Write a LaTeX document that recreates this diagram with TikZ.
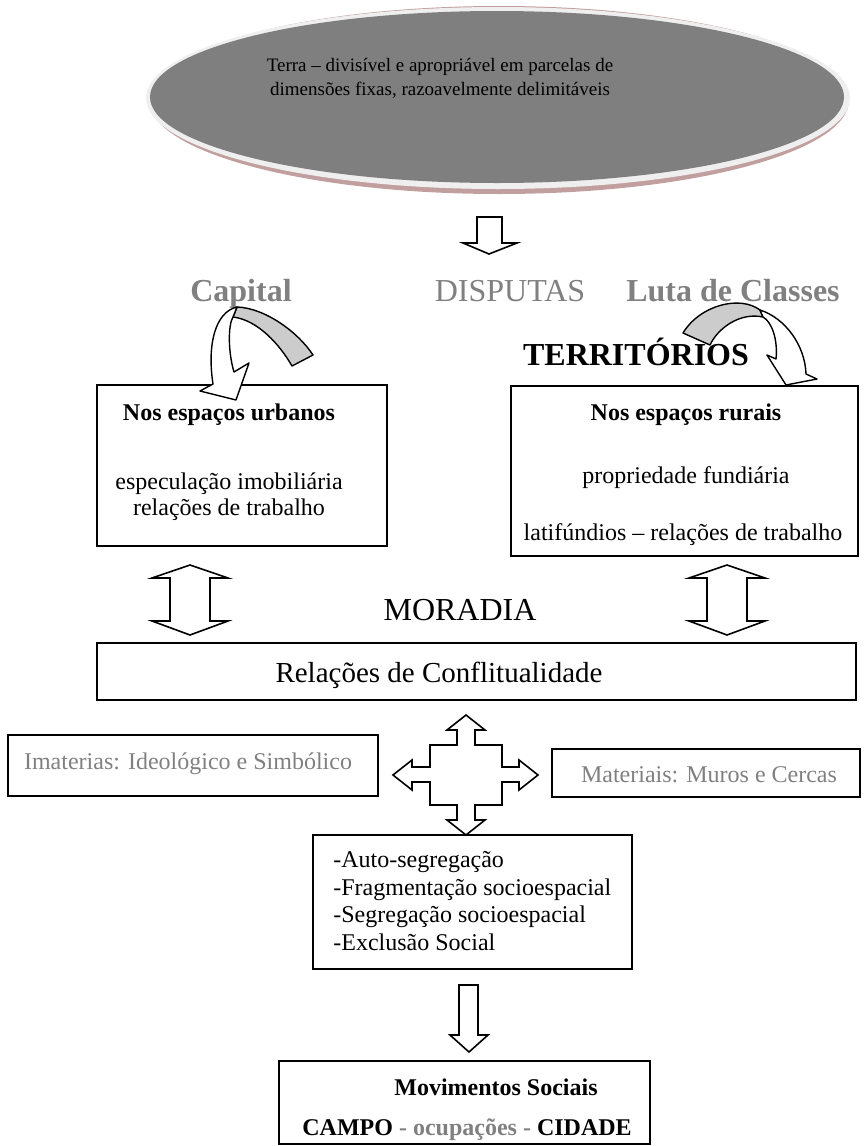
\documentclass[tikz,border=0pt]{standalone}
\usepackage{fontspec}
\setmainfont{Liberation Serif}
\usetikzlibrary{positioning}
\definecolor{ovalgrey}{HTML}{7F7F7F}
\definecolor{rimgrey}{HTML}{EFEFEF}
\definecolor{rimshadow}{HTML}{C29F9F}
\definecolor{labelgrey}{HTML}{808080}
\definecolor{bandgrey}{HTML}{CCCCCC}

\begin{document}
\begin{tikzpicture}[x=0.5pt,y=-0.5pt,
  box/.style={draw,line width=1pt,inner sep=0pt},
  block arrow/.style={draw,fill=white,line width=0.8pt,line join=miter},
  band/.style={draw,line width=0.7pt,line join=round},
  small text/.style={font=\fontsize{9.5pt}{12pt}\selectfont,inner sep=0pt},
  body text/.style={font=\fontsize{12pt}{13.8pt}\selectfont,inner sep=0pt,anchor=base},
  big text/.style={font=\fontsize{16pt}{18pt}\selectfont,inner sep=0pt,anchor=base},
  grey head/.style={big text,text=labelgrey},
  side text/.style={body text,text=labelgrey}]

  \useasboundingbox (0,0) rectangle (865,1146);

%oval terra
  \fill[rimshadow] (499,100) ellipse [x radius=350, y radius=94];
  \fill[rimgrey] (498,98) ellipse [x radius=352, y radius=91];
  \fill[ovalgrey] (497,97) ellipse [x radius=347, y radius=86];
  \node[small text,align=center,anchor=base] (terra) at (440,95)
    {Terra -- divisível e apropriável em parcelas de\\dimensões fixas, razoavelmente delimitáveis};

  \draw[block arrow] (477,217) -- (502,217) -- (502,243) -- (517,243) -- (489,254)
    -- (463,243) -- (477,243) -- cycle;

%disputas
  \node[grey head,font=\fontsize{16pt}{18pt}\selectfont\bfseries] (capital) at (241,301) {Capital};
  \node[grey head] (disputas) at (510,301) {DISPUTAS};
  \node[grey head,font=\fontsize{16pt}{18pt}\selectfont\bfseries] (luta) at (733,301) {Luta de Classes};
  \node[big text,font=\fontsize{16pt}{18pt}\selectfont\bfseries] (territorios) at (636,365) {TERRITÓRIOS};

%caixas de cima
  \node[box,minimum width=145pt,minimum height=80.5pt] (urbano) at (242,465.5) {};
  \node[box,minimum width=173.5pt,minimum height=85pt] (rural) at (684.5,471) {};

  \node[body text,font=\fontsize{12pt}{13.8pt}\selectfont\bfseries] (urbanotit) at (229,420) {Nos espaços urbanos};
  \node[body text] (especulacao) at (229,489) {especulação imobiliária};
  \node[body text] (trabalhourb) at (229,515) {relações de trabalho};
  \node[body text,font=\fontsize{12pt}{13.8pt}\selectfont\bfseries] (ruraltit) at (686,420) {Nos espaços rurais};
  \node[body text] (propriedade) at (686,483) {propriedade fundiária};
  \node[body text] (latifundio) at (683,540) {latifúndios -- relações de trabalho};

%setas curvas
  \filldraw[band,fill=bandgrey] (237,307) .. controls (265,308) and (298,332) .. (313,355)
    -- (292,366) .. controls (280,345) and (258,320) .. (233,317) -- cycle;
  \filldraw[band,fill=white] (237,307) .. controls (215,312) and (207,345) .. (213,384)
    -- (200,391) -- (236,400) -- (249,363) -- (234,372)
    .. controls (228,352) and (228,325) .. (233,317) -- cycle;
  \filldraw[band,fill=bandgrey] (683,333) .. controls (700,305) and (740,295) .. (760,310)
    -- (763,317) .. controls (740,312) and (718,328) .. (710,345) -- cycle;
  \filldraw[band,fill=white] (760,310) .. controls (785,318) and (805,345) .. (806,374)
    -- (817,379) -- (786,385) -- (767,355) -- (776,359)
    .. controls (778,340) and (772,322) .. (763,317) -- cycle;

%moradia
  \draw[block arrow] (190,565) -- (228,578) -- (210,578) -- (210,621) -- (228,621) -- (190,635)
    -- (152,621) -- (170,621) -- (170,578) -- (152,578) -- cycle;
  \draw[block arrow] (727,565) -- (765,578) -- (747,578) -- (747,621) -- (765,621) -- (727,635)
    -- (689,621) -- (707,621) -- (707,578) -- (689,578) -- cycle;
  \node[big text] (moradia) at (460,620) {MORADIA};

  \node[box,minimum width=379.5pt,minimum height=28.5pt] (conflito) at (476.5,671.5) {};
  \node[big text,font=\fontsize{14.5pt}{16pt}\selectfont] (conflitotxt) at (439,682) {Relações de Conflitualidade};

%seta de quatro pontas
  \draw[block arrow] (466,715) -- (485,730) -- (475,730) -- (475,745) -- (502,745) -- (502,767)
    -- (519,767) -- (519,760) -- (538,775) -- (519,790) -- (519,782) -- (502,782) -- (502,805)
    -- (475,805) -- (475,820) -- (485,820) -- (466,835) -- (447,820) -- (457,820) -- (457,805)
    -- (430,805) -- (430,782) -- (412,782) -- (412,790) -- (393,775) -- (412,760) -- (412,767)
    -- (430,767) -- (430,745) -- (457,745) -- (457,730) -- (447,730) -- cycle;

  \node[box,minimum width=185pt,minimum height=30.5pt] (imaterial) at (193,765.5) {};
  \node[side text] (imaterialtxt) at (188,769) {Imaterias: Ideológico e Simbólico};
  \node[box,minimum width=154pt,minimum height=24pt] (material) at (706,773) {};
  \node[side text] (materialtxt) at (709,782) {Materiais: Muros e Cercas};

%efeitos
  \node[box,minimum width=159.5pt,minimum height=67pt] (efeitos) at (472.5,902) {};
  \node[body text,anchor=base west] (ef1) at (333,867) {-Auto-segregação};
  \node[body text,anchor=base west] (ef2) at (333,895) {-Fragmentação socioespacial};
  \node[body text,anchor=base west] (ef3) at (333,922) {-Segregação socioespacial};
  \node[body text,anchor=base west] (ef4) at (333,950) {-Exclusão Social};

  \draw[block arrow] (459,985) -- (478,985) -- (478,1035) -- (488,1035) -- (469,1052)
    -- (450,1035) -- (459,1035) -- cycle;

%movimentos
  \node[box,minimum width=185.5pt,minimum height=41.5pt] (movimentos) at (464.5,1102.5) {};
  \node[body text,font=\fontsize{12pt}{13.8pt}\selectfont\bfseries] (movtit) at (496,1095) {Movimentos Sociais};
  \node[body text,anchor=base west,font=\fontsize{12pt}{13.8pt}\selectfont\bfseries] (campo) at (302,1135)
    {CAMPO \textcolor{labelgrey}{- ocupações -} CIDADE};

\end{tikzpicture}
\end{document}
